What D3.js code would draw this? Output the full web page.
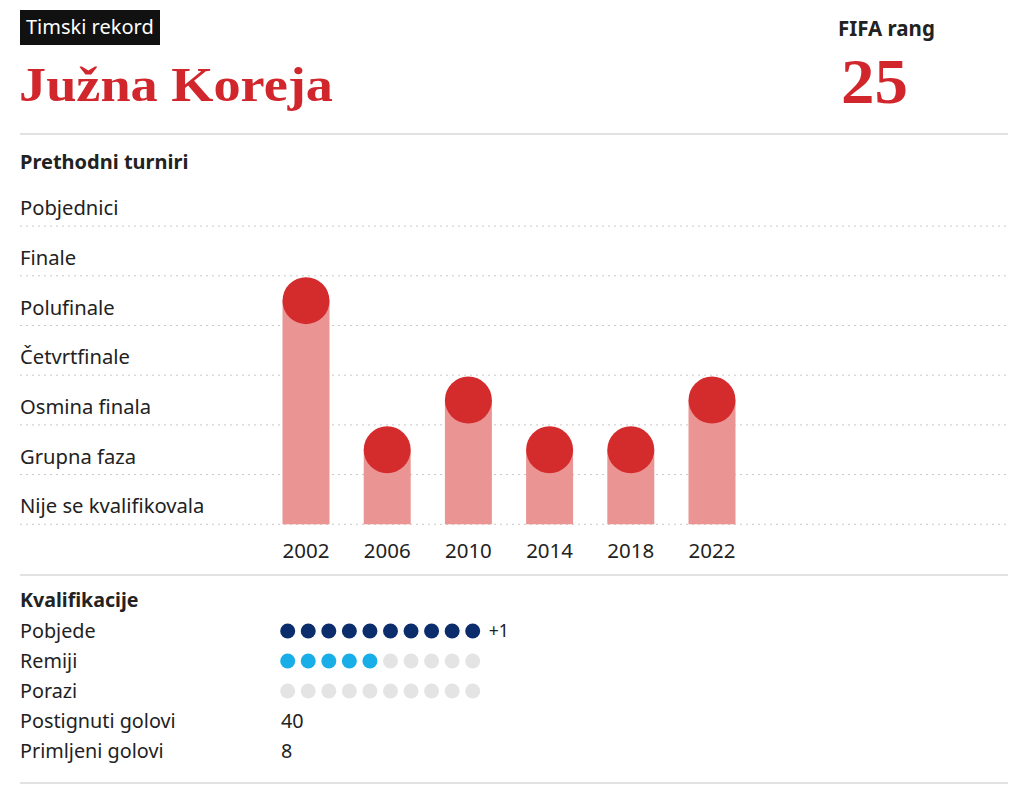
<!DOCTYPE html>
<html>
<head>
<meta charset="utf-8">
<script src="https://cdn.jsdelivr.net/npm/d3@7"></script>
<style>
  body { margin: 0; background: #fff; }
  svg text { font-family: "Noto Sans", "Open Sans", sans-serif; fill: #222; }
  .serif { font-family: "Liberation Serif", "DejaVu Serif", serif !important; font-weight: bold; fill: #d1262c; }
</style>
</head>
<body>
<svg id="chart" width="1024" height="787"></svg>
<script>
// stages, lowest first
const stages = ["Nije se kvalifikovala", "Grupna faza", "Osmina finala", "Četvrtfinale", "Polufinale", "Finale", "Pobjednici"];
const years = ["2002", "2006", "2010", "2014", "2018", "2022"];
const results = ["Polufinale", "Grupna faza", "Osmina finala", "Grupna faza", "Grupna faza", "Osmina finala"];

const qualLabels = ["Pobjede", "Remiji", "Porazi"];
const qualValues = [11, 5, 0];
const goalLabels = ["Postignuti golovi", "Primljeni golovi"];
const goalValues = [40, 8];

const team = "Južna Koreja";
const fifaRank = 25;

const svg = d3.select("#chart");
const lineColor = "#d9d9d9";

// ---- header
svg.append("rect").attr("x", 20).attr("y", 10).attr("width", 140).attr("height", 35).attr("fill", "#111");
svg.append("text").attr("x", 26).attr("y", 34).attr("font-size", 20).style("fill", "#fff").text("Timski rekord");
svg.append("text").attr("class", "serif").attr("x", 19).attr("y", 101).attr("font-size", 49)
  .attr("textLength", 314).attr("lengthAdjust", "spacingAndGlyphs").text(team);
svg.append("text").attr("x", 838).attr("y", 36).attr("font-size", 20.5).attr("font-weight", "bold").text("FIFA rang");
svg.append("text").attr("class", "serif").attr("x", 841).attr("y", 103).attr("font-size", 64)
  .attr("textLength", 67).attr("lengthAdjust", "spacingAndGlyphs").text(fifaRank);

const hline = y => svg.append("line").attr("x1", 20).attr("x2", 1008).attr("y1", y).attr("y2", y)
  .attr("stroke", lineColor).attr("stroke-width", 1.5);
hline(134); hline(575); hline(783);

// ---- previous tournaments
svg.append("text").attr("x", 20).attr("y", 169).attr("font-size", 20).attr("font-weight", "bold").text("Prethodni turniri");

const yScale = d3.scaleBand().domain(stages).range([524.3, 176.4]);
const bw = yScale.bandwidth();
const xScale = d3.scalePoint().domain(years).range([265.4, 752.6]).padding(0.5);
const barW = 47;

const grid = svg.append("g");
stages.forEach(s => {
  const yb = yScale(s) + bw;
  grid.append("line").attr("x1", 20).attr("x2", 1008).attr("y1", yb).attr("y2", yb)
    .attr("stroke", "#c8c8c8").attr("stroke-width", 1).attr("stroke-dasharray", "2,4");
  grid.append("text").attr("x", 20).attr("y", yb - 11).attr("font-size", 20.2).text(s);
});

const yc = s => yScale(s) + bw / 2;

svg.append("g").selectAll("rect").data(years).join("rect")
  .attr("x", d => xScale(d) - barW / 2)
  .attr("y", (d, i) => yc(results[i]))
  .attr("width", barW)
  .attr("height", (d, i) => yScale.range()[0] - yc(results[i]))
  .attr("fill", "#ea9593");

svg.append("g").selectAll("circle").data(years).join("circle")
  .attr("cx", d => xScale(d))
  .attr("cy", (d, i) => yc(results[i]))
  .attr("r", barW / 2)
  .attr("fill", "#d42b2d");

svg.append("g").selectAll("text").data(years).join("text")
  .attr("x", d => xScale(d)).attr("y", 558).attr("text-anchor", "middle")
  .attr("font-size", 20.5).text(d => d);

// ---- qualification
svg.append("text").attr("x", 20).attr("y", 607).attr("font-size", 19.6).attr("font-weight", "bold").text("Kvalifikacije");

const rowScale = d3.scaleBand().domain(qualLabels.concat(goalLabels)).range([616, 766]);
const rowY = l => rowScale(l) + rowScale.bandwidth() / 2;
const dotX = d3.scaleLinear().domain([0, 9]).range([287.7, 472.7]);
const maxDots = 10;
const qualColors = ["#0b2d6b", "#19aee8", "#0b2d6b"];

qualLabels.concat(goalLabels).forEach(l => {
  svg.append("text").attr("x", 20).attr("y", rowY(l) + 7).attr("font-size", 19.8).text(l);
});

qualLabels.forEach((l, r) => {
  const v = qualValues[r];
  svg.append("g").selectAll("circle").data(d3.range(maxDots)).join("circle")
    .attr("cx", i => dotX(i)).attr("cy", rowY(l)).attr("r", 7.5)
    .attr("fill", i => i < v ? qualColors[r] : "#e4e4e4");
  if (v > maxDots) {
    svg.append("text").attr("x", dotX(maxDots - 1) + 16).attr("y", rowY(l) + 6)
      .attr("font-size", 17.5).text("+" + (v - maxDots));
  }
});

goalLabels.forEach((l, r) => {
  svg.append("text").attr("x", 281).attr("y", rowY(l) + 7).attr("font-size", 19.8).text(goalValues[r]);
});
</script>
</body>
</html>
